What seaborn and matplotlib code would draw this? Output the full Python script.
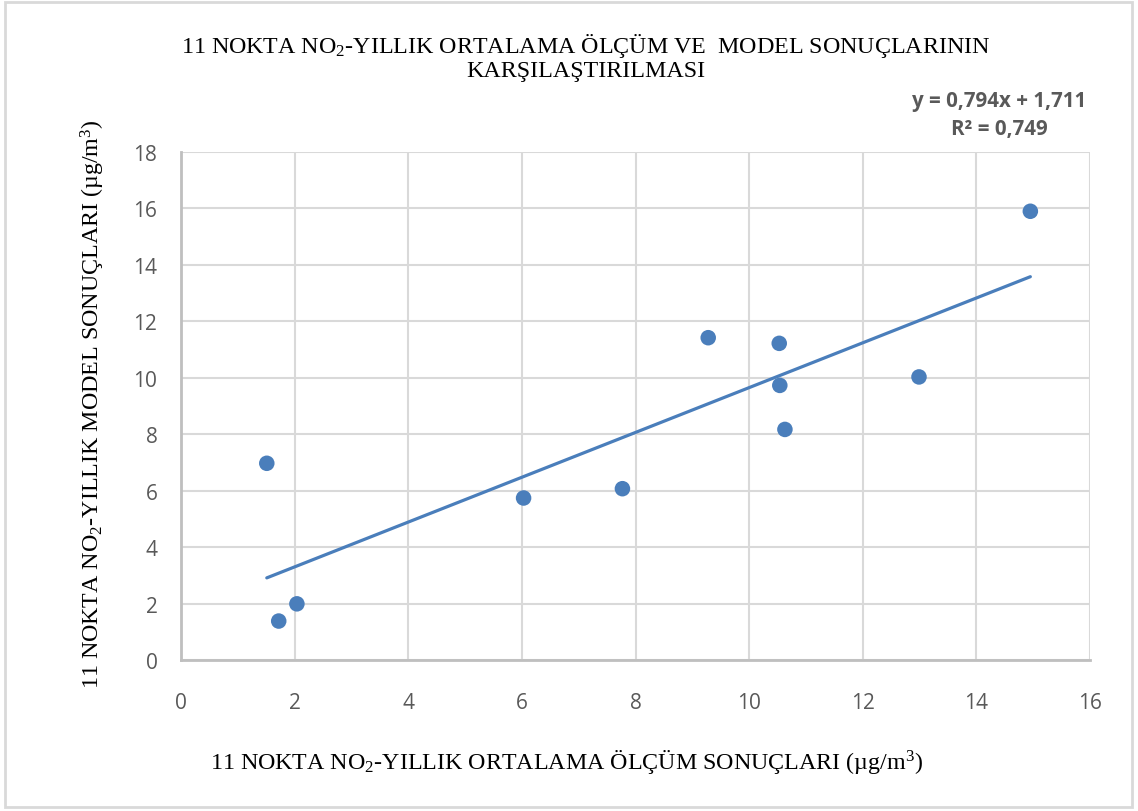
import matplotlib
matplotlib.use("Agg")
import matplotlib.pyplot as plt
import numpy as np
import pandas as pd
import seaborn as sns
from matplotlib.patches import Rectangle

# Annual mean NO2 at 11 points: measured vs. modelled (µg/m³)
olcum = [1.51, 1.72, 2.04, 6.03, 7.77, 9.28, 10.53, 10.54, 10.63, 12.99, 14.95]
model = [6.97, 1.38, 1.99, 5.74, 6.07, 11.42, 11.22, 9.73, 8.17, 10.03, 15.90]

# Linear trend line coefficients and goodness of fit
egim = 0.794
kesisim = 1.711
r_kare = 0.749

x_ticks = list(range(0, 17, 2))
y_ticks = list(range(0, 19, 2))

baslik = "11 NOKTA NO$_{\\mathrm{2}}$-YILLIK ORTALAMA ÖLÇÜM VE  MODEL SONUÇLARININ\nKARŞILAŞTIRILMASI"
x_etiket = "11 NOKTA NO$_{\\mathrm{2}}$-YILLIK ORTALAMA ÖLÇÜM SONUÇLARI (µg/m$^{\\mathrm{3}}$)"
y_etiket = "11 NOKTA NO$_{\\mathrm{2}}$-YILLIK MODEL SONUÇLARI (µg/m$^{\\mathrm{3}}$)"

sns.set_theme(style="white")
plt.rcParams["font.family"] = ["Open Sans", "DejaVu Sans"]
plt.rcParams["mathtext.fontset"] = "custom"
plt.rcParams["mathtext.rm"] = "Liberation Serif"
plt.rcParams["mathtext.it"] = "Liberation Serif:italic"

BLUE = "#4A7EBB"
GRID = "#D9D9D9"
AXIS = "#BFBFBF"
TEXT = "#595959"

df = pd.DataFrame({"olcum": olcum, "model": model})
x_uc = [min(olcum), max(olcum)]
trend = pd.DataFrame({"x": x_uc, "y": [egim * v + kesisim for v in x_uc]})

fig = plt.figure(figsize=(11.38, 8.12), dpi=100)
ax = fig.add_axes([181 / 1138, 1 - 661 / 812, (1090 - 181) / 1138, (661 - 153) / 812])

sns.lineplot(data=trend, x="x", y="y", ax=ax, color=BLUE, linewidth=2.3,
             solid_capstyle="round", zorder=3)
sns.scatterplot(data=df, x="olcum", y="model", ax=ax, color=BLUE, s=125,
                edgecolor="none", zorder=4)

ax.set_xlim(0, 16)
ax.set_ylim(0, 18)
ax.set_xticks(x_ticks)
ax.set_yticks(y_ticks)
ax.grid(True, color=GRID, linewidth=1.5)
ax.set_axisbelow(True)
for side in ("top", "right"):
    ax.spines[side].set_visible(False)
for side in ("left", "bottom"):
    ax.spines[side].set_color(AXIS)
    ax.spines[side].set_linewidth(2)
ax.tick_params(axis="both", length=0, labelsize=15, labelcolor=TEXT)
ax.tick_params(axis="y", pad=17)
ax.tick_params(axis="x", pad=23)
ax.set_xlabel("")
ax.set_ylabel("")

serif = ["Liberation Serif", "DejaVu Serif"]
fig.text(586 / 1138, 1 - 57 / 812, baslik, ha="center", va="center",
         fontsize=17.3, family=serif, color="black", linespacing=1.05)
fig.text(566 / 1138, 1 - 762 / 812, x_etiket, ha="center", va="center",
         fontsize=17.3, family=serif, color="black")
fig.text(93 / 1138, 1 - 404 / 812, y_etiket, ha="center", va="center",
         rotation=90, fontsize=17.3, family=serif, color="black")

denklem = f"y = {egim:.3f}x + {kesisim:.3f}".replace(".", ",")
r_metin = f"R² = {r_kare:.3f}".replace(".", ",")
fig.text(999 / 1138, 1 - 102 / 812, denklem, ha="center", va="center",
         fontsize=14.8, fontweight="bold", color=TEXT)
fig.text(999 / 1138, 1 - 130 / 812, r_metin, ha="center", va="center",
         fontsize=14.8, fontweight="bold", color=TEXT)

fig.patches.append(Rectangle((5 / 1138, 4 / 812), 1127 / 1138, 805 / 812,
                             transform=fig.transFigure, fill=False,
                             edgecolor=GRID, linewidth=2))

fig.savefig("out.png", dpi=100, facecolor="white")
